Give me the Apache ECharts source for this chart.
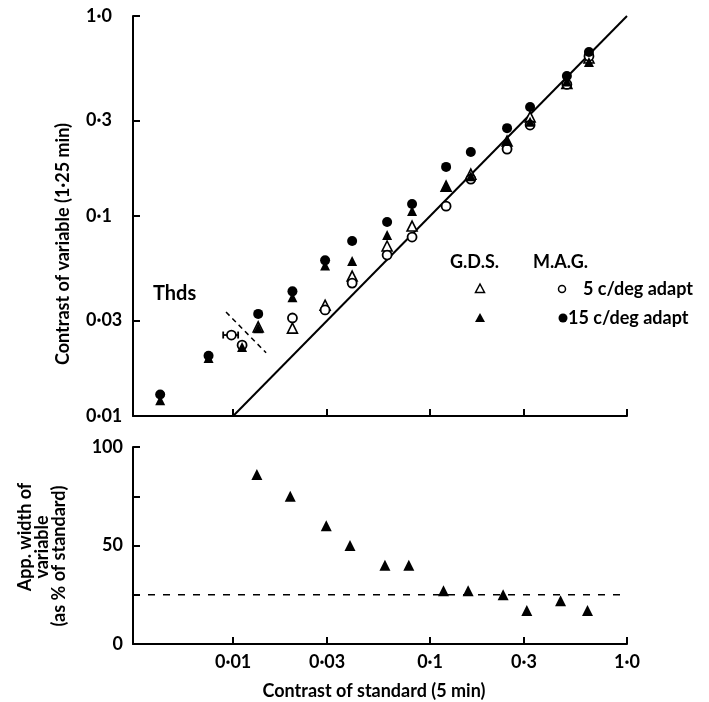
<!DOCTYPE html>
<html><head><meta charset="utf-8">
<script src="https://cdn.jsdelivr.net/npm/echarts@6/dist/echarts.min.js"></script>
<style>html,body{margin:0;padding:0;background:#fff}#c{width:709px;height:702px}</style>
</head><body><div id="c"></div>
<script>
// ---- tick values / labels ----
const xTickValues = [0.01, 0.03, 0.1, 0.3, 1];
const xTickLabels = ['0·01', '0·03', '0·1', '0·3', '1·0'];
const yTopTickValues = [0.01, 0.03, 0.1, 0.3, 1];
const yTopTickLabels = ['0·01', '0·03', '0·1', '0·3', '1·0'];
const yBottomTickValues = [0, 25, 50, 75, 100];
const yBottomTickLabels = ['0', '', '50', '', '100'];

// ---- top panel: [contrast of standard, contrast of variable] ----
const gdsOpen5 = [[0.0134,0.0279],[0.020,0.0275],[0.0293,0.0358],[0.0402,0.0501],[0.0605,0.0708],[0.081,0.0891],[0.1206,0.141],[0.161,0.162],[0.246,0.237],[0.322,0.313],[0.495,0.46],[0.641,0.617]];
const gdsFilled15 = [[0.00426,0.0120],[0.0075,0.0195],[0.0111,0.0221],[0.0134,0.0275],[0.020,0.0392],[0.0293,0.0565],[0.0402,0.0596],[0.0605,0.0804],[0.081,0.106],[0.1206,0.141],[0.161,0.158],[0.246,0.237],[0.322,0.296],[0.495,0.47],[0.641,0.589]];
const magOpen5 = [[0.0098,0.0254],[0.0111,0.0226],[0.020,0.0309],[0.0293,0.0339],[0.0402,0.0462],[0.0605,0.0638],[0.081,0.0785],[0.1206,0.112],[0.161,0.153],[0.246,0.216],[0.322,0.285],[0.495,0.455],[0.641,0.63]];
const magFilled15 = [[0.00426,0.0128],[0.0075,0.0200],[0.0134,0.0324],[0.020,0.0420],[0.0293,0.0600],[0.0402,0.075],[0.0605,0.0933],[0.081,0.1148],[0.1206,0.176],[0.161,0.209],[0.246,0.275],[0.322,0.351],[0.495,0.501],[0.641,0.661]];
const identityLine = [[0.01,0.01],[1,1]];
const thresholdBar = [[0.0089,0.0254],[0.0106,0.0254]];
const thresholdDivider = [[0.0092,0.0331],[0.0147,0.0207]];

// ---- bottom panel ----
const widthStd = [0.0132,0.0195,0.0297,0.0392,0.059,0.078,0.117,0.156,0.235,0.31,0.46,0.63];
const widthPct = [86,75,60,50,40,40,27,27,25,17,22,17];
const widthRefLevel = 25;
const widthRefRange = [0.0031, 0.943];

const FONT = 'Lato';
const X_MIN = 0.0031, X_MAX = 1;

function lab(vals, labels) {
  return function (v) {
    let best = 0, bd = Infinity;
    for (let i = 0; i < vals.length; i++) {
      const dd = (vals[i] > 0 && v > 0) ? Math.abs(Math.log(v) - Math.log(vals[i])) : Math.abs(v - vals[i]);
      if (dd < bd) { bd = dd; best = i; }
    }
    return labels[best];
  };
}

const axisLineStyle = { color: '#000', width: 2 };
const tickStyle = { color: '#000', width: 2 };
const labelFont = { color: '#000', fontFamily: FONT, fontWeight: 'bold', fontSize: 18 };

const chart = echarts.init(document.getElementById('c'), null, { renderer: 'canvas' });

const openCircle = { color: '#fff', borderColor: '#000', borderWidth: 1.8, opacity: 1 };
const filled = { color: '#000', opacity: 1 };
const openTri = { color: '#fff', borderColor: '#000', borderWidth: 1.6, opacity: 1 };

chart.setOption({
  animation: false,
  backgroundColor: '#fff',
  grid: [
    { left: 133, top: 16, width: 494, height: 400 },
    { left: 133, top: 447, width: 494, height: 197 }
  ],
  xAxis: [
    { gridIndex: 0, type: 'log', logBase: 10, min: X_MIN, max: X_MAX,
      axisLine: { lineStyle: axisLineStyle },
      axisTick: { inside: true, length: 7, lineStyle: tickStyle, customValues: xTickValues },
      axisLabel: { show: false },
      splitLine: { show: false }, minorTick: { show: false } },
    { gridIndex: 1, type: 'log', logBase: 10, min: X_MIN, max: X_MAX,
      axisLine: { lineStyle: axisLineStyle },
      axisTick: { inside: true, length: 7, lineStyle: tickStyle, customValues: xTickValues },
      axisLabel: Object.assign({ customValues: xTickValues, margin: 9, formatter: lab(xTickValues, xTickLabels) }, labelFont),
      splitLine: { show: false }, minorTick: { show: false } }
  ],
  yAxis: [
    { gridIndex: 0, type: 'log', logBase: 10, min: 0.01, max: 1,
      axisLine: { lineStyle: axisLineStyle },
      axisTick: { inside: true, length: 7, lineStyle: tickStyle, customValues: yTopTickValues },
      axisLabel: Object.assign({ customValues: yTopTickValues, align: 'left', margin: 47, formatter: lab(yTopTickValues, yTopTickLabels) }, labelFont),
      splitLine: { show: false }, minorTick: { show: false } },
    { gridIndex: 1, type: 'value', min: 0, max: 100, interval: 25,
      axisLine: { lineStyle: axisLineStyle },
      axisTick: { inside: true, length: 7, lineStyle: tickStyle },
      axisLabel: Object.assign({ margin: 10, formatter: lab(yBottomTickValues, yBottomTickLabels) }, labelFont),
      splitLine: { show: false } }
  ],
  series: [
    { type: 'line', xAxisIndex: 0, yAxisIndex: 0, data: identityLine, symbol: 'none',
      lineStyle: { color: '#000', width: 2 }, z: 2 },
    { type: 'line', xAxisIndex: 0, yAxisIndex: 0, data: thresholdDivider, symbol: 'none',
      lineStyle: { color: '#000', width: 1.5, type: [5, 4] }, z: 2 },
    { type: 'line', xAxisIndex: 0, yAxisIndex: 0, data: thresholdBar, symbol: 'rect', symbolSize: [1.8, 7],
      itemStyle: { color: '#000', opacity: 1 }, lineStyle: { color: '#000', width: 1.8 }, z: 2 },
    { type: 'scatter', name: 'G.D.S. 5', xAxisIndex: 0, yAxisIndex: 0, data: gdsOpen5, symbol: 'triangle', symbolSize: 10, itemStyle: openTri, z: 3 },
    { type: 'scatter', name: 'M.A.G. 5', xAxisIndex: 0, yAxisIndex: 0, data: magOpen5, symbol: 'circle', symbolSize: 9, itemStyle: openCircle, z: 3 },
    { type: 'scatter', name: 'G.D.S. 15', xAxisIndex: 0, yAxisIndex: 0, data: gdsFilled15, symbol: 'triangle', symbolSize: 10, itemStyle: filled, z: 4 },
    { type: 'scatter', name: 'M.A.G. 15', xAxisIndex: 0, yAxisIndex: 0, data: magFilled15, symbol: 'circle', symbolSize: 10, itemStyle: filled, z: 4 },
    { type: 'line', xAxisIndex: 1, yAxisIndex: 1, data: widthRefRange.map(x => [x, widthRefLevel]), symbol: 'none',
      lineStyle: { color: '#000', width: 1.5, type: [7, 8] }, z: 2 },
    { type: 'scatter', xAxisIndex: 1, yAxisIndex: 1, data: widthStd.map((x, i) => [x, widthPct[i]]),
      symbol: 'triangle', symbolSize: 11, itemStyle: filled, z: 3 }
  ],
  graphic: [
    { type: 'text', x: 63, y: 244, rotation: Math.PI / 2,
      style: { text: 'Contrast of variable (1·25 min)', fill: '#000', font: 'bold 18px ' + FONT, align: 'center', verticalAlign: 'middle' } },
    { type: 'text', x: 25, y: 537, rotation: Math.PI / 2,
      style: { text: 'App. width of', fill: '#000', font: 'bold 18px ' + FONT, align: 'center', verticalAlign: 'middle' } },
    { type: 'text', x: 42, y: 547, rotation: Math.PI / 2,
      style: { text: 'variable', fill: '#000', font: 'bold 18px ' + FONT, align: 'center', verticalAlign: 'middle' } },
    { type: 'text', x: 59, y: 556, rotation: Math.PI / 2,
      style: { text: '(as % of standard)', fill: '#000', font: 'bold 18px ' + FONT, align: 'center', verticalAlign: 'middle' } },
    { type: 'text', x: 374, y: 691,
      style: { text: 'Contrast of standard (5 min)', fill: '#000', font: 'bold 18px ' + FONT, align: 'center', verticalAlign: 'middle' } },
    { type: 'text', x: 153, y: 294,
      style: { text: 'Thds', fill: '#000', font: 'bold 20px ' + FONT, align: 'left', verticalAlign: 'middle' } },
    { type: 'text', x: 450, y: 262,
      style: { text: 'G.D.S.', fill: '#000', font: 'bold 18px ' + FONT, align: 'left', verticalAlign: 'middle' } },
    { type: 'text', x: 533, y: 262,
      style: { text: 'M.A.G.', fill: '#000', font: 'bold 18px ' + FONT, align: 'left', verticalAlign: 'middle' } },
    { type: 'polygon', shape: { points: [[480, 284], [475.5, 292.5], [484.5, 292.5]] },
      style: { fill: '#fff', stroke: '#000', lineWidth: 1.5 } },
    { type: 'polygon', shape: { points: [[480, 313], [475, 322], [485, 322]] },
      style: { fill: '#000' } },
    { type: 'circle', shape: { cx: 562, cy: 289, r: 3.5 }, style: { fill: '#fff', stroke: '#000', lineWidth: 1.5 } },
    { type: 'circle', shape: { cx: 563, cy: 318, r: 4.5 }, style: { fill: '#000' } },
    { type: 'text', x: 583, y: 289,
      style: { text: '5 c/deg adapt', fill: '#000', font: 'bold 18px ' + FONT, align: 'left', verticalAlign: 'middle' } },
    { type: 'text', x: 568, y: 318,
      style: { text: '15 c/deg adapt', fill: '#000', font: 'bold 18px ' + FONT, align: 'left', verticalAlign: 'middle' } }
  ]
});
</script></body></html>
